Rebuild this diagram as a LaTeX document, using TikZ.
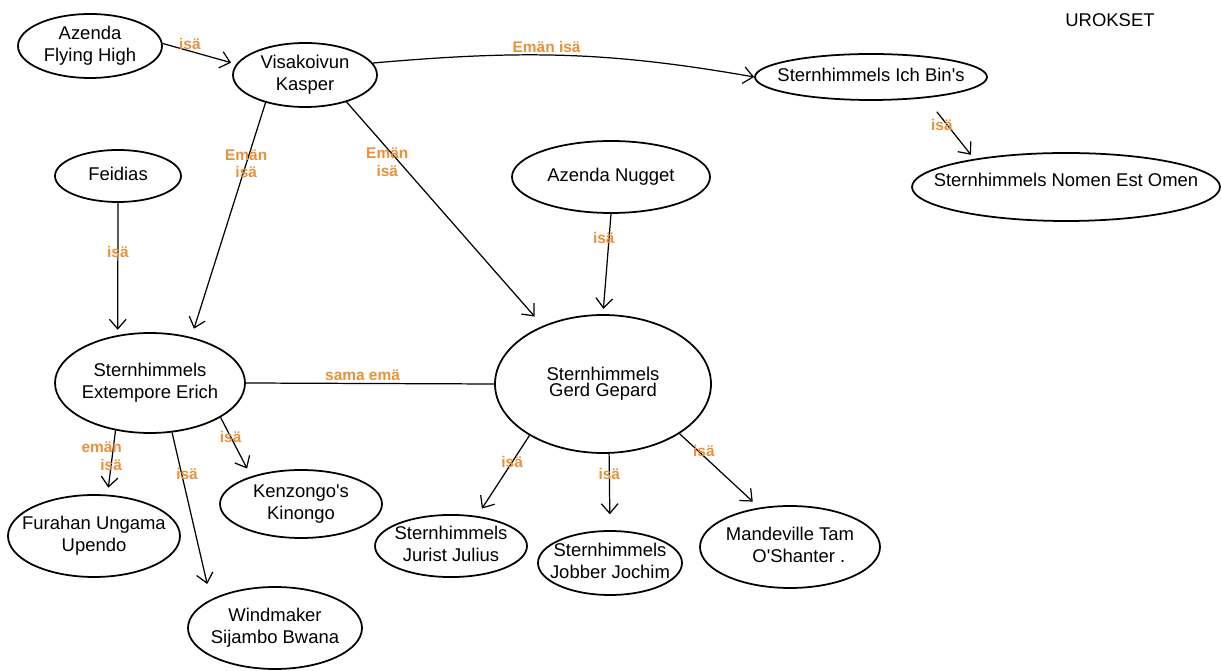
\documentclass[tikz,border=0pt]{standalone}
\usepackage{fontspec}
\setmainfont{Liberation Sans}
\usepackage{xcolor}
\usepackage{tikz}
\usetikzlibrary{shapes.geometric, arrows.meta, positioning}
\definecolor{isaorange}{RGB}{232,145,58}
\newcommand{\dogname}[1]{\makebox[0pt]{\begin{tabular}{@{}c@{}}#1\end{tabular}}}

\begin{document}
\begin{tikzpicture}[
  x=0.02cm, y=0.02cm,
  dog/.style={ellipse, draw, line width=1pt, inner sep=0pt, font=\fontsize{10.5}{12.5}\selectfont},
  dims/.style 2 args={minimum width=#1*0.02cm, minimum height=#2*0.02cm},
  arrow/.style={-{Straight Barb[length=5.5pt,width=9.5pt]}, line width=0.7pt},
  lbl/.style={text=isaorange, font=\fontsize{8.8}{10}\bfseries\selectfont, inner sep=1pt}
]
  \useasboundingbox (0,0) rectangle (1221,-671);
  \node[dog, dims={144}{64}] (flying) at (90,-46) {\dogname{Azenda\\Flying High}};
  \node[dog, dims={144}{64}] (kasper) at (305,-75) {\dogname{Visakoivun\\Kasper}};
  \node[dog, dims={232}{46}] (ichbin) at (871,-77) {\dogname{Sternhimmels Ich Bin\textquotesingle s}};
  \node[dog, dims={308}{68}] (nomen) at (1066,-187) {\dogname{\raisebox{4pt}{Sternhimmels Nomen Est Omen}}};
  \node[dog, dims={126}{52}] (feidias) at (118,-176) {\dogname{Feidias}};
  \node[dog, dims={198}{72}] (nugget) at (611,-177) {\dogname{Azenda Nugget}};
  \node[dog, dims={190}{100}] (erich) at (150,-383) {\dogname{Sternhimmels\\Extempore Erich}};
  \node[dog, dims={216}{138}] (gerd) at (603,-384) {\dogname{Sternhimmels\\[-3pt]Gerd Gepard}};
  \node[dog, dims={172}{82}] (furahan) at (94,-536) {\dogname{Furahan Ungama\\Upendo}};
  \node[dog, dims={162}{68}] (kenzongo) at (301,-504) {\dogname{Kenzongo\textquotesingle s\\Kinongo}};
  \node[dog, dims={174}{82}] (windmaker) at (275,-628) {\dogname{Windmaker\\Sijambo Bwana}};
  \node[dog, dims={152}{58}] (julius) at (451,-546) {\dogname{Sternhimmels\\Jurist Julius}};
  \node[dog, dims={144}{64}] (jochim) at (610,-563) {\dogname{Sternhimmels\\Jobber Jochim}};
  \node[dog, dims={180}{82}] (mandeville) at (790,-547) {\dogname{Mandeville Tam\\\hspace{10pt}O\textquotesingle Shanter .}};
  \node[font=\fontsize{10.5}{12.5}\selectfont] (urokset) at (1110,-20) {UROKSET};

  \draw[arrow, shorten >=3pt] (flying.2) -- node[lbl, pos=.37, yshift=4pt] {isä} (kasper.171);
  \draw[arrow] (kasper.10) to[out=5, in=170] node[lbl, pos=.45, above] {Emän isä} (ichbin.west);
  \draw[arrow, shorten <=10pt, shorten >=3pt] (ichbin.-21) -- node[lbl, pos=.44, xshift=-3pt] {isä} (nomen.163);
  \draw[arrow, shorten >=5pt] (kasper.-145) -- node[lbl, pos=.26, align=center] {Emän\\isä} (erich.48);
  \draw[arrow, shorten >=7pt] (kasper.-33) -- node[lbl, pos=.27, xshift=-7pt, align=center] {Emän\\isä} (gerd.136);
  \draw[arrow, shorten >=3pt] (feidias.south) -- node[lbl, pos=.37] {isä} (erich.124);
  \draw[arrow, shorten >=3pt] (nugget.south) -- node[lbl, pos=.24, xshift=-3pt] {isä} (gerd.north);
  \draw[line width=0.7pt] (erich.east) -- node[lbl, pos=.47, above] {sama emä} (gerd.west);
  \draw[arrow, shorten >=4pt] (erich.-126) -- node[lbl, pos=.4, xshift=-6pt, align=right] {emän\\isä} (furahan.72);
  \draw[arrow, shorten >=9pt] (erich.-66) -- node[lbl, pos=.25, xshift=3pt] {isä} (windmaker.156);
  \draw[arrow, shorten >=5pt] (erich.-26) -- node[lbl, pos=.33] {isä} (kenzongo.151);
  \draw[arrow, shorten >=5pt] (gerd.-145) -- node[lbl, pos=.33] {isä} (julius.49);
  \draw[arrow, shorten >=9pt] (gerd.-85) -- node[lbl, pos=.26] {isä} (jochim.north);
  \draw[arrow, shorten >=5pt] (gerd.-33) -- node[lbl, pos=.24, xshift=3pt] {isä} (mandeville.128);
\end{tikzpicture}
\end{document}
